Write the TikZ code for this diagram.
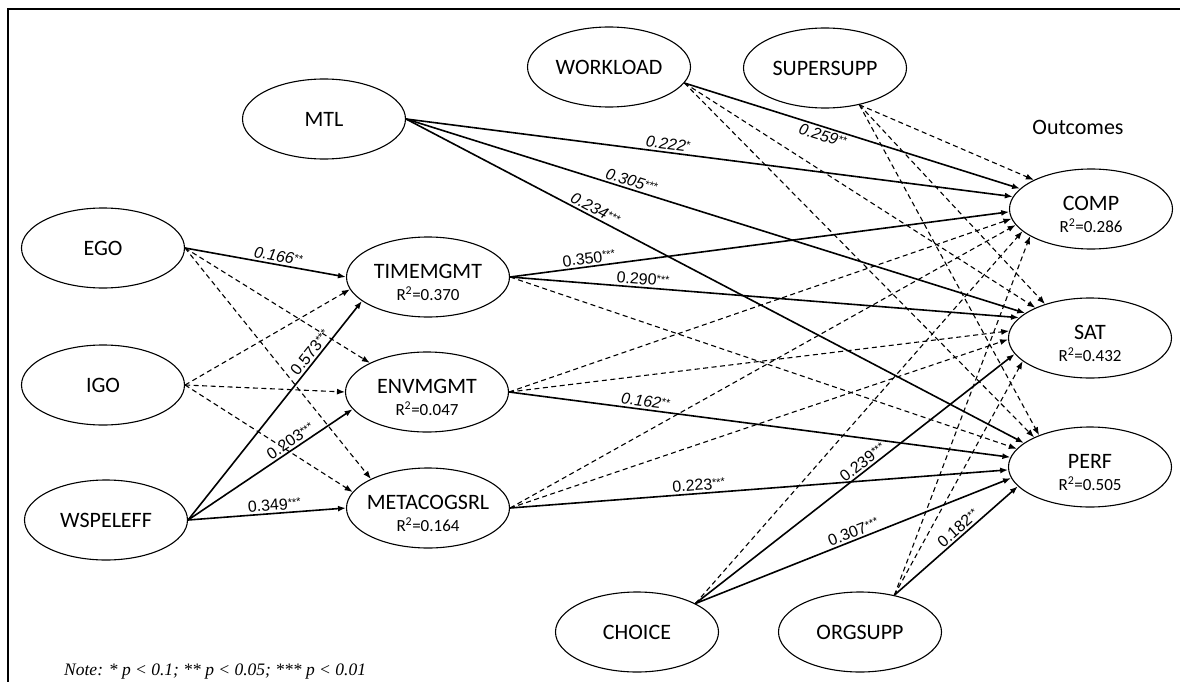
\documentclass[tikz,border=0pt]{standalone}
\usepackage{fontspec}
\setmainfont{Carlito}
\newfontfamily\coeffont{Liberation Sans}
\newfontfamily\notefont{Liberation Serif}
\usetikzlibrary{arrows.meta,shapes.geometric}

% significance stars, set small and raised
\newcommand\stars[1]{\raisebox{3pt}{\fontsize{11}{11}\selectfont #1}}
% latent variable with an R-squared line: name, x, y, title, R2
\newcommand\latentrsq[5]{%
  \node[var] (#1) at (#2,#3) {};
  \node[ttl] (#1-t) at (#2,#3-6) {#4};
  \node[rsq] (#1-r) at (#2,#3+17) {R\textsuperscript{2}=#5};
}

\begin{document}
\begin{tikzpicture}[x=1pt,y=-1pt,
  var/.style={ellipse, draw, line width=1.1pt, minimum width=163pt,
    minimum height=80pt, inner sep=0pt, font=\fontsize{22}{24}\selectfont},
  ttl/.style={inner sep=0pt, font=\fontsize{22}{24}\selectfont},
  rsq/.style={inner sep=0pt, font=\fontsize{17}{19}\selectfont},
  sig/.style={line width=1.6pt, -{Latex[length=8pt,width=6pt]}},
  ns/.style={line width=1.1pt, dash pattern=on 5pt off 3.5pt,
    -{Latex[length=8pt,width=6pt]}},
  coef/.style={sloped, inner sep=2pt, font=\coeffont\fontsize{16}{18}\selectfont},
  coefit/.style={coef, font=\coeffont\itshape\fontsize{16}{18}\selectfont},
]
\useasboundingbox (0,0) rectangle (1180,682);

% frame
\draw[line width=2.4pt] (8,682) -- (8,9) -- (1180,9);

% antecedents
\node[var] (EGO) at (103,248) {EGO};
\node[var] (IGO) at (103,385) {IGO};
\node[var] (WSPELEFF) at (106,520) {WSPELEFF};
\node[var] (MTL) at (324,119) {MTL};

% self-regulation mediators
\latentrsq{TIMEMGMT}{428}{277}{TIMEMGMT}{0.370}
\latentrsq{ENVMGMT}{427}{392}{ENVMGMT}{0.047}
\latentrsq{METACOGSRL}{428}{508}{METACOGSRL}{0.164}

% context variables
\node[var] (WORKLOAD) at (609,67) {WORKLOAD};
\node[var] (SUPERSUPP) at (825,68) {SUPERSUPP};
\node[var] (CHOICE) at (637,632) {CHOICE};
\node[var] (ORGSUPP) at (860,632) {ORGSUPP};

% outcomes
\node[ttl] (outcomes) at (1078,127) {Outcomes};
\latentrsq{COMP}{1091}{209}{COMP}{0.286}
\latentrsq{SAT}{1090}{338}{SAT}{0.432}
\latentrsq{PERF}{1090}{467}{PERF}{0.505}

% non-significant paths
\draw[ns] (EGO.east) -- (ENVMGMT.153);
\draw[ns] (EGO.east) -- (METACOGSRL.153);
\draw[ns] (IGO.east) -- (TIMEMGMT.189);
\draw[ns] (IGO.east) -- (ENVMGMT.180);
\draw[ns] (IGO.east) -- (METACOGSRL.168);
\draw[ns] (TIMEMGMT.east) -- (PERF.166);
\draw[ns] (ENVMGMT.east) -- (COMP.187);
\draw[ns] (ENVMGMT.east) -- (SAT.175);
\draw[ns] (METACOGSRL.east) -- (COMP.192);
\draw[ns] (METACOGSRL.east) -- (SAT.181);
\draw[ns] (WORKLOAD.-12) -- (SAT.151);
\draw[ns] (WORKLOAD.-12) -- (PERF.152);
\draw[ns] (SUPERSUPP.-47) -- (COMP.153);
\draw[ns] (SUPERSUPP.-47) -- (SAT.143);
\draw[ns] (SUPERSUPP.-47) -- (PERF.148);
\draw[ns] (CHOICE.26) -- (COMP.198);
\draw[ns] (ORGSUPP.47) -- (COMP.204);
\draw[ns] (ORGSUPP.47) -- (SAT.199);

% significant paths
\draw[sig] (EGO.east) -- node[coefit, above, pos=0.57] {0.166\stars{**}} (TIMEMGMT.180);
\draw[sig] (WSPELEFF.east) -- node[coef, above, pos=0.74] {0.573\stars{***}} (TIMEMGMT.200);
\draw[sig] (WSPELEFF.east) -- node[coef, above, pos=0.65] {0.203\stars{***}} (ENVMGMT.193);
\draw[sig] (WSPELEFF.east) -- node[coef, above, pos=0.55] {0.349\stars{***}} (METACOGSRL.180);
\draw[sig] (MTL.east) -- node[coefit, above, pos=0.43] {0.222\stars{*}} (COMP.171);
\draw[sig] (MTL.east) -- node[coefit, above, pos=0.36] {0.305\stars{***}} (SAT.159);
\draw[sig] (MTL.east) -- node[coefit, above, pos=0.3] {0.234\stars{***}} (PERF.160);
\draw[sig] (WORKLOAD.-12) -- node[coefit, below, pos=0.42] {0.259\stars{**}} (COMP.164);
\draw[sig] (TIMEMGMT.east) -- node[coef, above, pos=0.16] {0.350\stars{***}} (COMP.182);
\draw[sig] (TIMEMGMT.east) -- node[coef, above, pos=0.26] {0.290\stars{***}} (SAT.164);
\draw[sig] (ENVMGMT.east) -- node[coefit, above, pos=0.27] {0.162\stars{**}} (PERF.173);
\draw[sig] (METACOGSRL.east) -- node[coef, above, pos=0.38] {0.223\stars{***}} (PERF.182);
\draw[sig] (CHOICE.26) -- node[coef, above, pos=0.54] {0.239\stars{***}} (SAT.192);
\draw[sig] (CHOICE.26) -- node[coef, above, pos=0.51] {0.307\stars{***}} (PERF.188);
\draw[sig] (ORGSUPP.47) -- node[coef, above, pos=0.56] {0.182\stars{**}} (PERF.195);

% significance note
\node[anchor=west, inner sep=0pt, font=\notefont\itshape\fontsize{17.5}{20}\selectfont]
  (note) at (64,672) {Note: * p < 0.1; ** p < 0.05; *** p < 0.01};
\end{tikzpicture}
\end{document}
